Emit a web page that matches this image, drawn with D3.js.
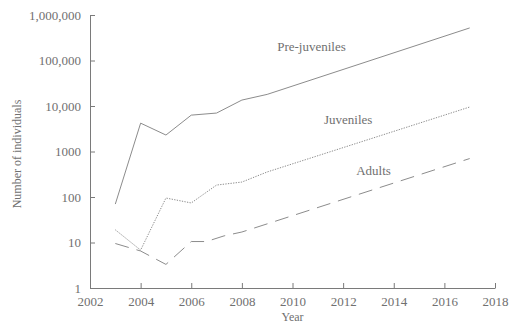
<!DOCTYPE html>
<html>
<head>
<meta charset="utf-8">
<script src="https://cdn.jsdelivr.net/npm/d3@7"></script>
<style>
  html, body { margin: 0; padding: 0; background: #fff; }
</style>
</head>
<body>
<svg id="chart"></svg>
<script>
const years = [2003, 2004, 2005, 2006, 2007, 2008, 2009, 2017];
const preJuveniles = [70, 4200, 2300, 6300, 7000, 13500, 18000, 520000];
const juveniles = [19, 6.8, 95, 74, 183, 213, 355, 9500];
const adults = [9.5, 6.5, 3.3, 10.5, 10.5, 14, 17, 700];
const adultYears = [2003, 2004, 2005, 2006, 2006.6, 2007.3, 2008, 2017];
const xTicks = [2002, 2004, 2006, 2008, 2010, 2012, 2014, 2016, 2018];
const yTicks = [1, 10, 100, 1000, 10000, 100000, 1000000];
const yTickLabels = ["1", "10", "100", "1000", "10,000", "100,000", "1,000,000"];

const width = 510, height = 326;
const margin = { top: 15, right: 15, bottom: 38, left: 90 };
const serif = '"Liberation Serif", "Times New Roman", "DejaVu Serif", serif';
const textColor = "#707070";

const svg = d3.select("#chart").attr("width", width).attr("height", height);

const x = d3.scaleLinear().domain([2002, 2018]).range([margin.left, width - margin.right]);
const y = d3.scaleLog().domain([1, 1000000]).range([height - margin.bottom, margin.top]);

const gx = svg.append("g")
  .attr("transform", `translate(0,${height - margin.bottom})`)
  .call(d3.axisBottom(x).tickValues(xTicks).tickFormat(d3.format("d"))
    .tickSizeInner(-5).tickSizeOuter(0).tickPadding(9));
const gy = svg.append("g")
  .attr("transform", `translate(${margin.left},0)`)
  .call(d3.axisLeft(y).tickValues(yTicks).tickFormat((d, i) => yTickLabels[i])
    .tickSizeInner(-5).tickSizeOuter(0).tickPadding(9));

[gx, gy].forEach(g => {
  g.attr("font-family", serif).attr("font-size", 13);
  g.select(".domain").attr("stroke", "#7a7a7a");
  g.selectAll(".tick line").attr("stroke", "#7a7a7a");
  g.selectAll(".tick text").attr("fill", textColor);
});

function drawLine(xs, vals, dash) {
  const line = d3.line().x((d, i) => x(xs[i])).y(d => y(d));
  svg.append("path")
    .datum(vals)
    .attr("fill", "none")
    .attr("stroke", "#8c8c8c")
    .attr("stroke-width", 1)
    .attr("stroke-dasharray", dash)
    .attr("d", line);
}
drawLine(years, preJuveniles, null);
drawLine(years, juveniles, "1.3,1.3");
drawLine(adultYears, adults, "14,8");

const labels = [
  { text: "Pre-juveniles", yr: 2010.75, v: 160000 },
  { text: "Juveniles", yr: 2012.2, v: 4000 },
  { text: "Adults", yr: 2013.2, v: 300 }
];
svg.selectAll(".series-label")
  .data(labels)
  .join("text")
  .attr("class", "series-label")
  .attr("x", d => x(d.yr))
  .attr("y", d => y(d.v))
  .attr("text-anchor", "middle")
  .attr("font-family", serif)
  .attr("font-size", 13)
  .attr("fill", textColor)
  .text(d => d.text);

svg.append("text")
  .attr("x", x(2010))
  .attr("y", 321)
  .attr("text-anchor", "middle")
  .attr("font-family", serif)
  .attr("font-size", 12)
  .attr("fill", textColor)
  .text("Year");

svg.append("text")
  .attr("transform", `translate(21,154) rotate(-90)`)
  .attr("text-anchor", "middle")
  .attr("font-family", serif)
  .attr("font-size", 12)
  .attr("fill", textColor)
  .text("Number of individuals");
</script>
</body>
</html>
